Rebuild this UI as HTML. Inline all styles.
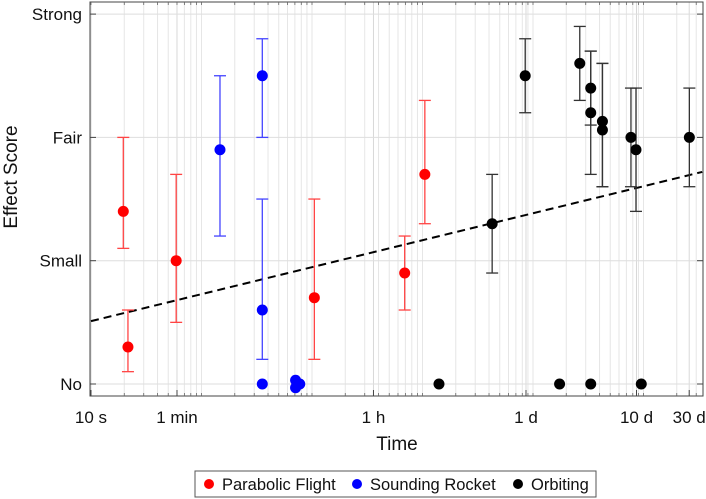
<!DOCTYPE html>
<html><head><meta charset="utf-8"><style>
body{margin:0;background:#fff;}
svg{display:block;font-family:"Liberation Sans",Arial,sans-serif;}
</style></head><body>
<svg id="chart" width="706" height="499" viewBox="0 0 706 499">
<g id="grid"></g>
<g id="trend"></g>
<g id="marks"></g>
<rect x="90" y="2" width="613" height="394" fill="none" stroke="#444" stroke-width="1"/>
<g id="axes"></g>
<text x="397" y="450" font-size="19" text-anchor="middle" fill="#111">Time</text>
<text transform="translate(17,177) rotate(-90)" font-size="19" text-anchor="middle" fill="#111">Effect Score</text>
<g>
<rect x="195" y="471" width="401" height="26" fill="#fff" stroke="#555"/>
<circle cx="209" cy="484" r="5" fill="#f00"/>
<text x="222" y="490" font-size="16.5" fill="#111">Parabolic Flight</text>
<circle cx="357" cy="484" r="5" fill="#00f"/>
<text x="370" y="490" font-size="16.5" fill="#111">Sounding Rocket</text>
<circle cx="518" cy="484" r="5" fill="#000"/>
<text x="531" y="490" font-size="16.5" fill="#111">Orbiting</text>
</g>
</svg>
<script>
const yLabels=["No","Small","Fair","Strong"];
const xTickSeconds=[10,60,3600,86400,864000,2592000];
const xTickLabels=["10 s","1 min","1 h","1 d","10 d","30 d"];
const redT=[19.6,21.6,59,1050,6900,10500];
const redV=[1.4,0.3,1.0,0.7,0.9,1.7];
const redLo=[1.1,0.1,0.5,0.2,0.6,1.3];
const redHi=[2.0,0.6,1.7,1.5,1.2,2.3];
const blueT=[147,355,355,355,710,710,775];
const blueV=[1.9,2.5,0.6,0,0.03,-0.03,0];
const blueLo=[1.2,2.0,0.2,null,null,null,null];
const blueHi=[2.5,2.8,1.5,null,null,null,null];
const blackT=[14100,42700,85000,174000,265000,333000,333000,425000,425000,770000,855000,955000,333000,2600000];
const blackV=[0,1.3,2.5,0,2.6,2.4,2.2,2.13,2.06,2.0,1.9,0,0,2.0];
const blackLo=[null,0.9,2.2,null,2.3,2.1,1.7,1.6,1.6,1.6,1.4,null,null,1.6];
const blackHi=[null,1.7,2.8,null,2.9,2.7,2.7,2.6,2.6,2.4,2.4,null,null,2.4];
const trendStart=[10,0.51];
const trendEnd=[3400000,1.72];

const NS="http://www.w3.org/2000/svg";
const X0=90,X1=703,Y0=396,Y1=2;
function xs(t){return 91+(Math.log10(t)-1)*110.5;}
function ys(v){return 384-123.3*v;}
function mk(tag,attrs,parent){const e=document.createElementNS(NS,tag);for(const k in attrs)e.setAttribute(k,attrs[k]);parent.appendChild(e);return e;}
const grid=document.getElementById('grid'),axes=document.getElementById('axes'),marks=document.getElementById('marks'),trend=document.getElementById('trend');
for(let n=1;n<=6;n++){for(let k=1;k<=9;k++){const t=k*Math.pow(10,n);const x=xs(t);if(x<X0||x>X1)continue;
const l=mk('line',{x1:x,x2:x,y1:Y1,y2:Y0,stroke:'#e6e6e6','stroke-width':1},grid);


const tk=mk('line',{x1:x,x2:x,y1:Y0,y2:Y0-3,stroke:'#666','stroke-width':0.8},axes);


const tk2=mk('line',{x1:x,x2:x,y1:Y1,y2:Y1+3,stroke:'#666','stroke-width':0.8},axes);

}}
xTickSeconds.forEach((t,i)=>{const x=xs(t);
const l=mk('line',{x1:x,x2:x,y1:Y1,y2:Y0,stroke:'#d8d8d8','stroke-width':1},grid);


const tk=mk('line',{x1:x,x2:x,y1:Y0,y2:Y0-6,stroke:'#444'},axes);


const tx=mk('text',{x:x,y:423,'font-size':17,'text-anchor':'middle',fill:'#111'},axes);tx.textContent=xTickLabels[i];

});
yLabels.forEach((lab,i)=>{const y=ys(i);
const l=mk('line',{x1:X0,x2:X1,y1:y,y2:y,stroke:'#dedede'},grid);


const tk=mk('line',{x1:X0,x2:X0+6,y1:y,y2:y,stroke:'#444'},axes);


const tk2=mk('line',{x1:X1,x2:X1-6,y1:y,y2:y,stroke:'#444'},axes);


const tx=mk('text',{x:82,y:y+6,'font-size':17,'text-anchor':'end',fill:'#111'},axes);tx.textContent=lab;

});
const tl=mk('line',{x1:xs(trendStart[0]),y1:ys(trendStart[1]),x2:xs(trendEnd[0]),y2:ys(trendEnd[1]),stroke:'#000','stroke-width':2,'stroke-dasharray':'8,5'},trend);


function series(T,V,Lo,Hi,col,bar,name){
T.forEach((t,i)=>{const x=xs(t);
if(Lo[i]!=null){const g=mk('g',{stroke:bar,'stroke-width':1.3},marks);


mk('line',{x1:x,x2:x,y1:ys(Lo[i]),y2:ys(Hi[i])},g);
mk('line',{x1:x-6,x2:x+6,y1:ys(Lo[i]),y2:ys(Lo[i])},g);
mk('line',{x1:x-6,x2:x+6,y1:ys(Hi[i]),y2:ys(Hi[i])},g);}
});
T.forEach((t,i)=>{const c=mk('circle',{cx:xs(t),cy:ys(V[i]),r:5.5,fill:col},marks);

});
}
series(redT,redV,redLo,redHi,'#f00','#f44','parabolic-flight');
series(blueT,blueV,blueLo,blueHi,'#00f','#44f','sounding-rocket');
series(blackT,blackV,blackLo,blackHi,'#000','#333','orbiting');
</script>
</body></html>
